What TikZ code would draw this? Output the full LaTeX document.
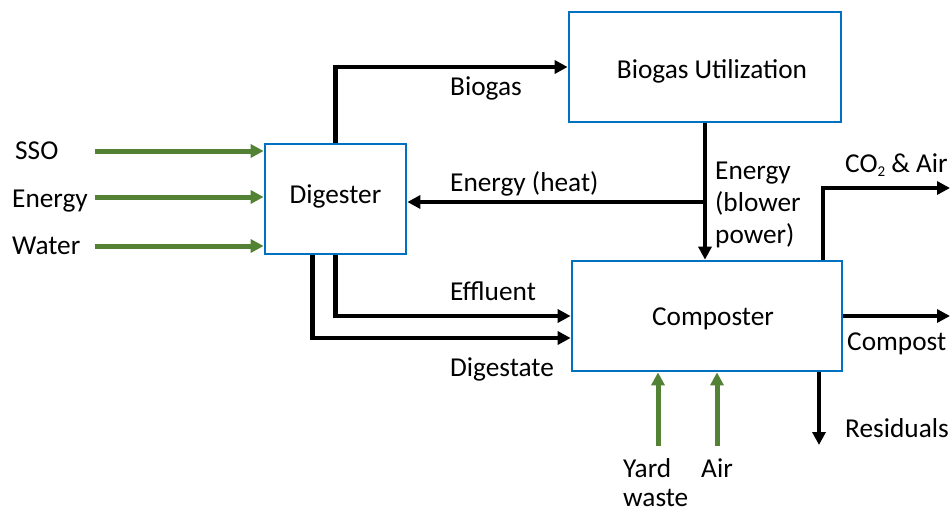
\documentclass[tikz,border=0pt]{standalone}
\usepackage{fontspec}
\setmainfont{Carlito}
\usetikzlibrary{arrows.meta}
\definecolor{boxblue}{HTML}{0070C0}
\definecolor{ingreen}{HTML}{548235}
\begin{document}
\begin{tikzpicture}[x=1pt,y=-1pt,
  every node/.style={font=\fontsize{27.3}{32}\selectfont, inner sep=0pt},
  procbox/.style={draw=boxblue, line width=2.7pt, fill=white},
  flow/.style={draw=black, line width=4.2pt, -{Triangle[length=13pt,width=13pt]}},
  inflow/.style={draw=ingreen, line width=5pt, -{Triangle[length=13pt,width=13pt]}},
  lbl/.style={anchor=base west},
]
\useasboundingbox (0,0) rectangle (950,512);
% boxes
\node[procbox, minimum width=141pt, minimum height=110pt] (dig) at (335.5,199) {};
\node[anchor=base] (digt) at (335.5,203) {Digester};
\node[procbox, minimum width=272pt, minimum height=110pt] (bu) at (705,67) {};
\node[anchor=base] (but) at (712,78) {Biogas Utilization};
\node[procbox, minimum width=270pt, minimum height=110pt] (comp) at (707,316) {};
\node[anchor=base] (compt) at (713,325) {Composter};
% coordinates for free ends
\coordinate (sso) at (95,151);
\coordinate (en) at (95,197);
\coordinate (wa) at (95,246);
\coordinate (junc) at (705,202);
\coordinate (co2end) at (950,188);
\coordinate (cpend) at (950,316);
\coordinate (resend) at (819,445);
\coordinate (yw) at (658,446);
\coordinate (air) at (717,446);
% black flows
\draw[flow] (dig.north) |- (bu.west);
\draw[flow] (bu.south) -- (bu.south |- comp.north);
\draw[flow] (junc) -- (junc -| dig.east);
\draw[flow] (dig.south) |- (comp.west);
\draw[flow] ([xshift=-23pt]dig.south) |- ([yshift=-22pt]comp.west);
\draw[flow] ([xshift=116pt]comp.north) |- (co2end);
\draw[flow] (comp.east) -- (cpend);
\draw[flow] ([xshift=112pt]comp.south) -- (resend);
% green inputs
\draw[inflow] (sso) -- (sso -| dig.west);
\draw[inflow] (en) -- (en -| dig.west);
\draw[inflow] (wa) -- (wa -| dig.west);
\draw[inflow] (yw) -- (yw |- comp.south);
\draw[inflow] (air) -- (air |- comp.south);
% labels
\node[lbl] (l1) at (15,159) {SSO};
\node[lbl] (l2) at (12,207) {Energy};
\node[lbl] (l3) at (12,254) {Water};
\node[lbl] (l4) at (450,95) {Biogas};
\node[lbl] (l5) at (450,191) {Energy (heat)};
\node[lbl] (l6) at (715,179) {Energy};
\node[lbl] (l7) at (715,211) {(blower};
\node[lbl] (l8) at (715,243) {power)};
\node[lbl] (l9) at (845,172) {CO\raisebox{-4.5pt}{\fontsize{15}{15}\selectfont 2} \& Air};
\node[lbl] (l10) at (847,350) {Compost};
\node[lbl] (l11) at (845,437) {Residuals};
\node[lbl] (l12) at (450,300) {Effluent};
\node[lbl] (l13) at (450,376) {Digestate};
\node[lbl] (l14) at (623,477) {Yard};
\node[lbl, text depth=0pt] (l15) at (623,506) {waste};
\node[lbl] (l16) at (701,477) {Air};
\end{tikzpicture}
\end{document}
